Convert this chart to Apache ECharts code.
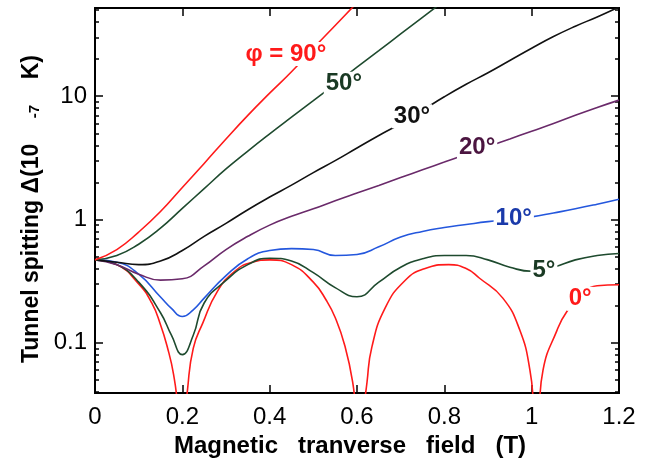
<!DOCTYPE html>
<html><head><meta charset="utf-8">
<script src="https://cdn.jsdelivr.net/npm/echarts@6/dist/echarts.min.js"></script>
<style>html,body{margin:0;padding:0;background:#fff}#c{width:649px;height:463px}</style>
</head><body><div id="c"></div>
<script>
// ---- data ----
const fieldX = [0,0.05,0.1,0.15,0.2,0.25,0.3,0.35,0.4,0.45,0.5,0.55,0.6,0.65,0.7,0.75,0.8,0.85,0.9,0.95,1.0,1.05,1.1,1.15,1.2];
const dipX = [0,0.05,0.1,0.15,0.175,0.2,0.225,0.25,0.3,0.35,0.4,0.45,0.5,0.55,0.6,0.65,0.7,0.75,0.8,0.85,0.9,0.95,1.0,1.05,1.1,1.15,1.2];
const y90 = [0.47,0.57,0.79,1.16,1.82,2.85,4.5,7.0,10.6,15.8,24.5,37.5,57.5,89];
const y50 = [0.47,0.51,0.63,0.85,1.23,1.78,2.57,3.59,4.95,6.76,9.2,12.6,17.2,23.4,32,43.6,59.6];
const y30 = [0.47,0.45,0.43,0.46,0.56,0.73,0.93,1.2,1.52,1.9,2.4,3.0,3.8,4.8,6.0,7.7,9.9,12.5,15.5,19.5,24.5,30.5,37,44,53];
const y20 = [0.47,0.43,0.36,0.322,0.33,0.42,0.57,0.73,0.9,1.06,1.22,1.42,1.64,1.89,2.19,2.53,2.92,3.38,3.9,4.5,5.2,6.0,7.0,8.1,9.3];
const y10 = [0.47,0.45,0.36,0.235,0.19,0.163,0.185,0.23,0.35,0.48,0.56,0.58,0.57,0.51,0.52,0.6,0.72,0.8,0.86,0.91,0.96,1.0,1.05,1.13,1.22,1.33,1.46];
const y5 = [0.47,0.43,0.31,0.175,0.115,0.08,0.115,0.21,0.32,0.43,0.485,0.46,0.37,0.28,0.236,0.31,0.41,0.48,0.51,0.51,0.47,0.41,0.38,0.41,0.47,0.51,0.53];
const x0 = [0,0.05,0.1,0.13,0.15,0.165,0.18,0.19,0.199,0.206,0.212,0.225,0.247,0.28,0.32,0.36,0.4,0.45,0.5,0.53,0.55,0.572,0.59,0.598,0.607,0.615,0.623,0.634,0.664,0.71,0.756,0.81,0.85,0.88,0.934,0.973,0.996,1.004,1.011,1.018,1.026,1.058,1.081,1.115,1.15,1.2];
const y0 = [0.47,0.43,0.30,0.21,0.14,0.094,0.055,0.028,0.005,0.022,0.042,0.09,0.145,0.26,0.38,0.45,0.47,0.43,0.31,0.22,0.16,0.095,0.048,0.025,0.005,0.025,0.048,0.092,0.19,0.32,0.40,0.43,0.40,0.335,0.23,0.126,0.06,0.03,0.005,0.03,0.06,0.126,0.18,0.245,0.29,0.295];

const labelText = ['φ = 90°','50°','30°','20°','10°','5°','0°'];
const labelX = [0.437,0.570,0.726,0.875,0.959,1.028,1.111];
const labelY = [22.0,12.65,6.87,3.87,1.02,0.389,0.227];

const yMajorTicks = [0.1,1,10];
const yMinorTicks = [0.04,0.05,0.06,0.07,0.08,0.09,0.2,0.3,0.4,0.5,0.6,0.7,0.8,0.9,2,3,4,5,6,7,8,9,20,30,40,50];
const yMin = 0.039, yMax = 52;

// ---- build ----
const FONT = '"Liberation Sans", Arial, Helvetica, sans-serif';
function zip(xs, ys){ return ys.map((v,i)=>[xs[i], v]); }

const curves = [
  {x: x0, y: y0, color:'#ff1a1a', lc:'#ff1a1a', li:6},
  {x: dipX, y: y5, color:'#1e4a2e', lc:'#1a3a24', li:5},
  {x: dipX, y: y10, color:'#2457dd', lc:'#1a3aaa', li:4},
  {x: fieldX, y: y20, color:'#6a2a6a', lc:'#4b1540', li:3},
  {x: fieldX, y: y30, color:'#111111', lc:'#111111', li:2},
  {x: fieldX, y: y50, color:'#1e4a2e', lc:'#1a3a24', li:1},
  {x: fieldX, y: y90, color:'#ff1a1a', lc:'#ff1a1a', li:0}
];

const series = curves.map(c => ({
  type:'line', xAxisIndex:0, yAxisIndex:0,
  data: zip(c.x, c.y), showSymbol:false, symbol:'none',
  smooth:0.5, clip:true,
  lineStyle:{color:c.color, width:1.6},
  markPoint:{
    symbol:'circle', symbolSize:0, silent:true, animation:false,
    data:[{coord:[labelX[c.li], labelY[c.li]], value:labelText[c.li]}],
    label:{show:true, position:'inside', formatter: labelText[c.li], color:c.lc,
      fontFamily:FONT, fontSize:24, fontWeight:'bold', backgroundColor:'#fff', padding:[0,2]}
  }
}));

const axisLine = {show:true, onZero:false, lineStyle:{color:'#000', width:2}};
function yAxis(pos, ticks, len, labels){
  return {
    type:'log', min:yMin, max:yMax, position:pos, logBase:10,
    axisLine: axisLine, splitLine:{show:false},
    axisTick:{show:true, inside:true, length:len, customValues:ticks, lineStyle:{color:'#000', width:1.5}},
    axisLabel: labels ? {show:true, customValues:yMajorTicks, margin:8, fontFamily:FONT, fontSize:24, color:'#000'} : {show:false}
  };
}

const yAxes = [yAxis('left', yMajorTicks, 8, true), yAxis('left', yMinorTicks, 4, false),
               yAxis('right', yMajorTicks, 8, false), yAxis('right', yMinorTicks, 4, false)];
yAxes[0].name = '{a|Tunnel spitting Δ(10    }{s|-7}{a|    K)}';
yAxes[0].nameLocation = 'middle';
yAxes[0].nameGap = 52;
yAxes[0].nameTextStyle = {padding:[0,17,0,0], rich:{
  a:{fontFamily:FONT, fontSize:23, fontWeight:'bold', color:'#000'},
  s:{fontFamily:FONT, fontSize:15, fontWeight:'bold', color:'#000', verticalAlign:'bottom'}}};

const xBase = {type:'value', min:0, max:1.2, interval:0.2, splitLine:{show:false}, axisLine: axisLine};
const option = {
  animation:false,
  backgroundColor:'#fff',
  grid:{left:95, right:30, top:8, bottom:68, containLabel:false},
  xAxis:[
    Object.assign({}, xBase, {position:'bottom',
      axisTick:{show:true, inside:true, length:8, lineStyle:{color:'#000', width:1.5}},
      axisLabel:{show:true, margin:12, fontFamily:FONT, fontSize:24, color:'#000'},
      name:'Magnetic   tranverse   field   (T)', nameLocation:'middle', nameGap:40,
      nameTextStyle:{fontFamily:FONT, fontSize:24, fontWeight:'bold', color:'#000', padding:[0,14,0,0]}}),
    Object.assign({}, xBase, {position:'top',
      axisTick:{show:true, inside:true, length:8, lineStyle:{color:'#000', width:1.5}},
      axisLabel:{show:false}})
  ],
  yAxis: yAxes,
  series: series
};

const chart = echarts.init(document.getElementById('c'), null, {renderer:'canvas'});
chart.setOption(option);
</script>
</body></html>
